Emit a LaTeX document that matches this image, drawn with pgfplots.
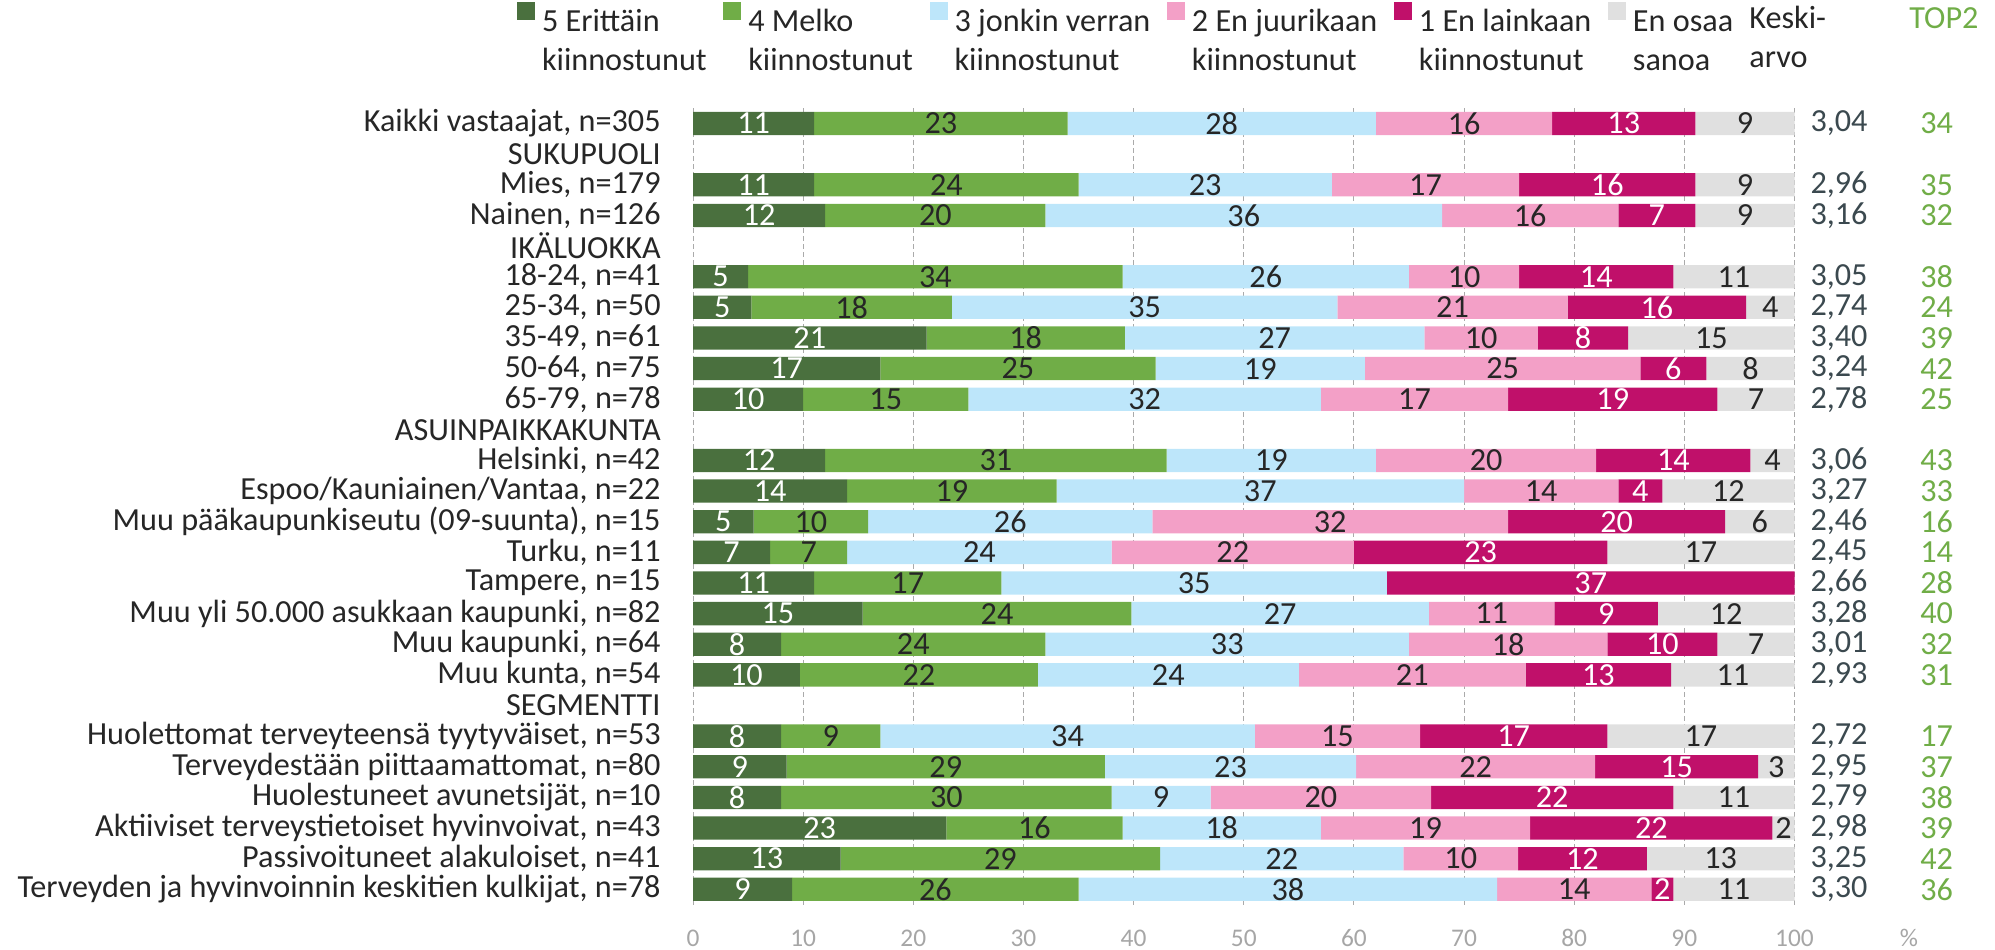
\documentclass[border=0pt]{standalone}
\usepackage{pgfplots}
\pgfplotsset{compat=1.18}
\usepackage{pgfplotstable}
\usepackage{fontspec}
\setmainfont{Carlito}

\definecolor{c5}{RGB}{74,112,62}
\definecolor{c4}{RGB}{112,173,71}
\definecolor{c3}{RGB}{189,230,250}
\definecolor{c2}{RGB}{243,160,199}
\definecolor{c1}{RGB}{192,16,106}
\definecolor{c0}{RGB}{224,224,224}
\definecolor{txt}{RGB}{38,38,38}
\definecolor{kac}{RGB}{59,73,79}
\definecolor{topc}{RGB}{112,173,71}
\definecolor{gridc}{RGB}{170,170,170}
\definecolor{tickc}{RGB}{166,166,166}

\newcommand\lbl{\fontsize{16.1pt}{19.5pt}\selectfont}
\newcommand\tickf{\fontsize{12.7pt}{15pt}\selectfont}
\DeclareRobustCommand\twol[2]{\begin{tabular}[t]{@{}l@{}}#1\\#2\end{tabular}}

% y: row position (26 = top row); v*: bar lengths; l*: printed labels
\pgfplotstableread{
y  v5   v4   v3   v2   v1   v0   l5 l4 l3 l2 l1 l0 ka   top
26 11   23   28   16   13   9    11 23 28 16 13 9  3.04 34
24 11   24   23   17   16   9    11 24 23 17 16 9  2.96 35
23 12   20   36   16   7    9    12 20 36 16 7  9  3.16 32
21 5    34   26   10   14   11   5  34 26 10 14 11 3.05 38
20 5.3  18.2 35.0 20.9 16.2 4.4  5  18 35 21 16 4  2.74 24
19 21.2 18.0 27.2 10.3 8.2  15.1 21 18 27 10 8  15 3.40 39
18 17   25   19   25   6    8    17 25 19 25 6  8  3.24 42
17 10   15   32   17   19   7    10 15 32 17 19 7  2.78 25
15 12   31   19   20   14   4    12 31 19 20 14 4  3.06 43
14 14   19   37   14   4    12   14 19 37 14 4  12 3.27 33
13 5.5  10.4 25.8 32.3 19.7 6.3  5  10 26 32 20 6  2.46 16
12 7    7    24   22   23   17   7  7  24 22 23 17 2.45 14
11 11   17   35   0    37   0    11 17 35 {} 37 {} 2.66 28
10 15.4 24.4 27.0 11.4 9.4  12.4 15 24 27 11 9  12 3.28 40
9  8    24   33   18   10   7    8  24 33 18 10 7  3.01 32
8  9.7  21.6 23.7 20.6 13.2 11.2 10 22 24 21 13 11 2.93 31
6  8    9    34   15   17   17   8  9  34 15 17 17 2.72 17
5  8.5  28.9 22.8 21.7 14.8 3.3  9  29 23 22 15 3  2.95 37
4  8    30   9    20   22   11   8  30 9  20 22 11 2.79 38
3  23   16   18   19   22   2    23 16 18 19 22 2  2.98 39
2  13.4 29.0 22.1 10.4 11.7 13.4 13 29 22 10 12 13 3.25 42
1  9    26   38   14   2    11   9  26 38 14 2  11 3.30 36
}\data

\pgfplotsset{
  /pgf/number format/assume math mode=true,
  geom/.style={
    at={(346.5pt,22.2pt)}, anchor=south west,
    width=550.75pt, height=398.2pt, scale only axis,
    xmin=0, xmax=100, ymin=0.5, ymax=26.5,
  },
  seglabel/.style={
    draw=none, mark=none,
    nodes near coords={\pgfplotspointmeta},
    point meta=explicit symbolic,
    every node near coord/.append style={font=\lbl, text=#1, anchor=center, inner sep=0pt},
  },
}

\begin{document}
\begin{tikzpicture}
\useasboundingbox (0,0) rectangle (997.5pt,474.5pt);
\begin{axis}[
  geom,
  xbar stacked, bar width=11.65pt,
  axis line style={draw=none}, tick style={draw=none},
  xtick={0,10,...,100}, ytick={1,...,26},
  xmajorgrids, ymajorgrids=false,
  grid style={gridc, line width=0.5pt, dash pattern=on 2.5pt off 1.5pt},
  xticklabel style={font=\tickf, text=tickc, anchor=center, yshift=-16.7pt},
  yticklabel style={font=\lbl, text=txt, anchor=east, inner sep=0pt, xshift=-16pt},
  yticklabels={
    {Terveyden ja hyvinvoinnin keskitien kulkijat, n=78},
    {Passivoituneet alakuloiset, n=41},
    {Aktiiviset terveystietoiset hyvinvoivat, n=43},
    {Huolestuneet avunetsijät, n=10},
    {Terveydestään piittaamattomat, n=80},
    {Huolettomat terveyteensä tyytyväiset, n=53},
    {SEGMENTTI},
    {Muu kunta, n=54},
    {Muu kaupunki, n=64},
    {Muu yli 50.000 asukkaan kaupunki, n=82},
    {Tampere, n=15},
    {Turku, n=11},
    {Muu pääkaupunkiseutu (09-suunta), n=15},
    {Espoo/Kauniainen/Vantaa, n=22},
    {Helsinki, n=42},
    {ASUINPAIKKAKUNTA},
    {65-79, n=78},
    {50-64, n=75},
    {35-49, n=61},
    {25-34, n=50},
    {18-24, n=41},
    {IKÄLUOKKA},
    {Nainen, n=126},
    {Mies, n=179},
    {SUKUPUOLI},
    {Kaikki vastaajat, n=305}},
  legend style={at={(axis description cs:-0.15978,1.13373)}, anchor=north west,
    draw=none, fill=none, inner sep=0pt, outer sep=0pt, font=\lbl, text=txt,
    nodes={inner sep=0pt, outer sep=0pt},
    /tikz/every odd column/.append style={column sep=3.5pt},
    /tikz/every even column/.append style={column sep=8.25pt}},
  legend columns=6, legend cell align=left,
  legend image code/.code={\fill[#1,draw=none] (0pt,0pt) rectangle (9pt,9pt);},
]
\addplot[fill=c5, draw=none] table[x=v5, y=y]{\data};
\addplot[fill=c4, draw=none] table[x=v4, y=y]{\data};
\addplot[fill=c3, draw=none] table[x=v3, y=y]{\data};
\addplot[fill=c2, draw=none] table[x=v2, y=y]{\data};
\addplot[fill=c1, draw=none] table[x=v1, y=y]{\data};
\addplot[fill=c0, draw=none] table[x=v0, y=y]{\data};
\addlegendentry{\twol{5 Erittäin}{kiinnostunut}}
\addlegendentry{\twol{4 Melko}{kiinnostunut}}
\addlegendentry{\twol{3 jonkin verran}{kiinnostunut}}
\addlegendentry{\twol{2 En juurikaan}{kiinnostunut}}
\addlegendentry{\twol{1 En lainkaan}{kiinnostunut}}
\addlegendentry{\twol{En osaa}{sanoa}}
\end{axis}
\begin{axis}[geom, hide axis, clip=false]
% segment value labels, centred on each segment of the stacked bars
\addplot[seglabel=white] table[x expr=\thisrow{v5}/2, y=y, meta=l5]{\data};
\addplot[seglabel=txt] table[x expr=\thisrow{v5}+\thisrow{v4}/2, y=y, meta=l4]{\data};
\addplot[seglabel=txt] table[x expr=\thisrow{v5}+\thisrow{v4}+\thisrow{v3}/2, y=y, meta=l3]{\data};
\addplot[seglabel=txt] table[x expr=\thisrow{v5}+\thisrow{v4}+\thisrow{v3}+\thisrow{v2}/2, y=y, meta=l2]{\data};
\addplot[seglabel=white] table[x expr=\thisrow{v5}+\thisrow{v4}+\thisrow{v3}+\thisrow{v2}+\thisrow{v1}/2, y=y, meta=l1]{\data};
\addplot[seglabel=txt] table[x expr=\thisrow{v5}+\thisrow{v4}+\thisrow{v3}+\thisrow{v2}+\thisrow{v1}+\thisrow{v0}/2, y=y, meta=l0]{\data};
% Keskiarvo and TOP2 columns
\addplot[draw=none, mark=none,
  nodes near coords={\pgfmathprintnumber[fixed,fixed zerofill,precision=2,use comma]{\pgfplotspointmeta}},
  point meta=explicit,
  every node near coord/.append style={font=\lbl, text=kac, anchor=center, inner sep=0pt}]
  table[x expr=104.04, y=y, meta=ka]{\data};
\addplot[draw=none, mark=none,
  nodes near coords={\pgfmathprintnumber[fixed,precision=0]{\pgfplotspointmeta}},
  point meta=explicit,
  every node near coord/.append style={font=\lbl, text=topc, anchor=center, inner sep=0pt}]
  table[x expr=112.9, y=y, meta=top]{\data};
\end{axis}
\node[anchor=base west, inner sep=0pt, font=\lbl, text=txt] at (874.5pt,460pt)
  {\twol{Keski-}{arvo}};
\node[anchor=base west, inner sep=0pt, font=\lbl, text=topc] at (954.5pt,460pt) {TOP2};
\node[anchor=center, inner sep=0pt, font=\tickf, text=tickc] at (954.5pt,5.5pt) {\%};
\end{tikzpicture}
\end{document}
